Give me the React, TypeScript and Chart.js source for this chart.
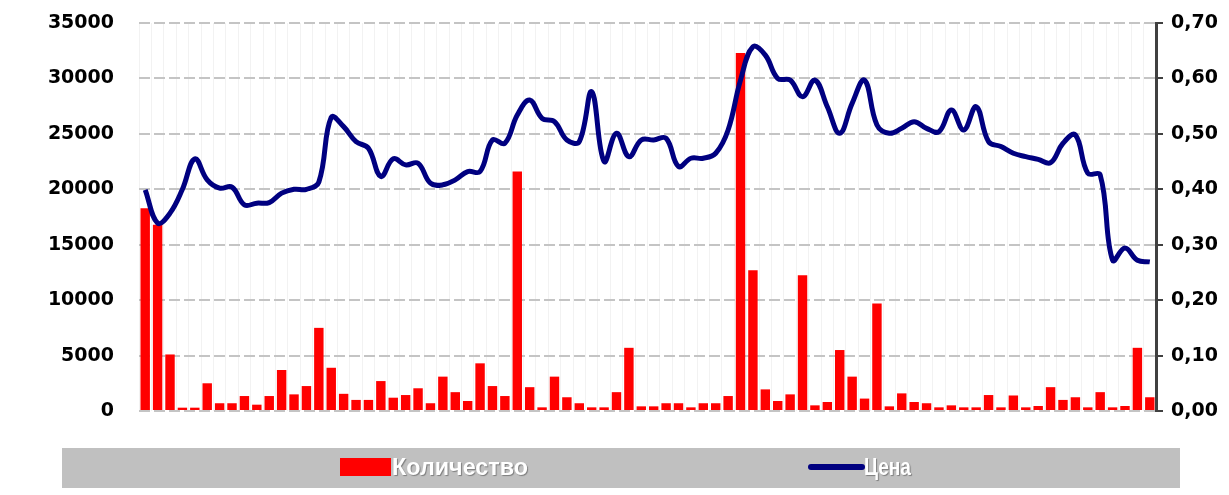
import React, { useEffect, useRef } from "react";
import { Chart, registerables } from "chart.js";

Chart.register(...registerables);

const quantity = [
  18300, 16800, 5100, 300, 300, 2500, 700, 700, 1350, 570,
  1350, 3700, 1500, 2250, 7500, 3900, 1550, 1000, 1000, 2700,
  1200, 1440, 2050, 700, 3100, 1700, 900, 4300, 2250, 1350,
  21600, 2150, 330, 3100, 1240, 700, 330, 330, 1700, 5700,
  420, 420, 700, 700, 330, 700, 700, 1350, 32300, 12700,
  1950, 900, 1500, 12250, 510, 810, 5500, 3100, 1120, 9700,
  420, 1590, 810, 700, 330, 510, 330, 330, 1440, 330,
  1400, 330, 450, 2150, 1000, 1240, 330, 1700, 330, 450,
  5700, 1240,
];

const price = [
  0.399, 0.339, 0.357, 0.4, 0.455, 0.417, 0.402, 0.404, 0.372, 0.375,
  0.376, 0.393, 0.4, 0.4, 0.413, 0.53, 0.513, 0.486, 0.474, 0.423,
  0.455, 0.444, 0.447, 0.411, 0.408, 0.417, 0.432, 0.432, 0.489, 0.483,
  0.534, 0.561, 0.528, 0.522, 0.489, 0.486, 0.576, 0.45, 0.501, 0.459,
  0.489, 0.489, 0.492, 0.441, 0.456, 0.456, 0.465, 0.507, 0.597, 0.657,
  0.642, 0.6, 0.597, 0.567, 0.597, 0.549, 0.501, 0.555, 0.597, 0.516,
  0.501, 0.51, 0.522, 0.51, 0.504, 0.543, 0.507, 0.549, 0.486, 0.477,
  0.465, 0.459, 0.454, 0.448, 0.483, 0.498, 0.429, 0.426, 0.272, 0.294,
  0.272, 0.269,
];

const categories = quantity.map((_, i) => String(i + 1));

const seriesNames = ["Количество", "Цена"];
const leftTicks = [0, 5000, 10000, 15000, 20000, 25000, 30000, 35000];
const rightTicks = ["0,00", "0,10", "0,20", "0,30", "0,40", "0,50", "0,60", "0,70"];

const RED = "#ff0000";
const NAVY = "#000080";
const TICK_FONT = { family: "'DejaVu Sans', sans-serif", size: 19, weight: "bold" as const };

const legendBand = {
  id: "legendBand",
  afterDraw(chart: any) {
    const ctx = chart.ctx as CanvasRenderingContext2D;
    ctx.save();
    ctx.fillStyle = "#c0c0c0";
    ctx.fillRect(62, 448, 1118, 40);
    const cy = 467;
    ctx.fillStyle = RED;
    ctx.fillRect(340, 458, 51, 18);
    ctx.strokeStyle = NAVY;
    ctx.lineWidth = 6;
    ctx.lineCap = "round";
    ctx.beginPath();
    ctx.moveTo(811, cy);
    ctx.lineTo(862, cy);
    ctx.stroke();
    ctx.font = "bold 24px 'Liberation Sans', Arial, sans-serif";
    ctx.textBaseline = "middle";
    ctx.textAlign = "left";
    ctx.shadowColor = "rgba(0,0,0,0.35)";
    ctx.shadowBlur = 1;
    ctx.shadowOffsetX = 1;
    ctx.shadowOffsetY = 1;
    ctx.fillStyle = "#ffffff";
    const drawNarrow = (text: string, x: number, targetW: number) => {
      const w = ctx.measureText(text).width;
      const sx = targetW / w;
      ctx.save();
      ctx.translate(x, cy + 1);
      ctx.scale(sx, 1);
      ctx.fillText(text, 0, 0);
      ctx.restore();
    };
    drawNarrow(seriesNames[0], 392, 136);
    drawNarrow(seriesNames[1], 864, 47);
    ctx.restore();
  },
};

const fixVertical = (width: number) => (s: any) => {
  s.width = width;
  s.paddingTop = 0;
  s.paddingBottom = 0;
};

export default function App() {
  const canvasRef = useRef<HTMLCanvasElement | null>(null);

  useEffect(() => {
    if (!canvasRef.current) return;
    const chart = new Chart(canvasRef.current, {
      type: "bar",
      data: {
        labels: categories,
        datasets: [
          {
            type: "bar",
            label: seriesNames[0],
            data: quantity,
            backgroundColor: RED,
            borderWidth: 0,
            barPercentage: 0.76,
            categoryPercentage: 1,
            yAxisID: "y",
            order: 2,
          },
          {
            type: "line",
            label: seriesNames[1],
            data: price,
            borderColor: NAVY,
            backgroundColor: NAVY,
            borderWidth: 5,
            tension: 0.4,
            pointRadius: 0,
            fill: false,
            yAxisID: "y1",
            order: 1,
          },
        ],
      },
      options: {
        animation: false,
        responsive: true,
        maintainAspectRatio: false,
        layout: { padding: { top: 23, bottom: 84, left: 0, right: 0 } },
        plugins: {
          legend: { display: false },
          tooltip: { enabled: false },
        },
        scales: {
          x: {
            offset: true,
            grid: { color: "#f2f2f2", lineWidth: 1, drawTicks: false, offset: true },
            border: { display: false },
            ticks: { display: false },
            afterFit: (s: any) => {
              s.height = 0;
              s.paddingLeft = 0;
              s.paddingRight = 0;
            },
          },
          y: {
            position: "left",
            min: 0,
            max: 35000,
            afterBuildTicks: (s: any) => {
              s.ticks = leftTicks.map((v) => ({ value: v }));
            },
            ticks: {
              color: "#000",
              font: TICK_FONT,
              padding: 25,
              callback: (v: any) => String(v),
            },
            grid: { color: "#c4c4c4", lineWidth: 2, drawTicks: false },
            border: { display: false, dash: [11, 4] },
            afterFit: fixVertical(139),
          },
          y1: {
            position: "right",
            min: 0,
            max: 0.7,
            afterBuildTicks: (s: any) => {
              s.ticks = rightTicks.map((_, i) => ({ value: i / 10 }));
            },
            ticks: {
              color: "#000",
              font: TICK_FONT,
              padding: 8,
              callback: (_v: any, i: number) => rightTicks[i],
            },
            grid: { drawOnChartArea: false, color: "#404040", lineWidth: 2, tickLength: 7 },
            border: { display: true, color: "#404040", width: 3 },
            afterFit: fixVertical(73),
          },
        },
      },
      plugins: [legendBand],
    });
    return () => chart.destroy();
  }, []);

  return (
    <div style={{ position: "fixed", left: 0, top: 0, width: 1229, height: 495, background: "#fff" }}>
      <canvas ref={canvasRef} />
    </div>
  );
}
